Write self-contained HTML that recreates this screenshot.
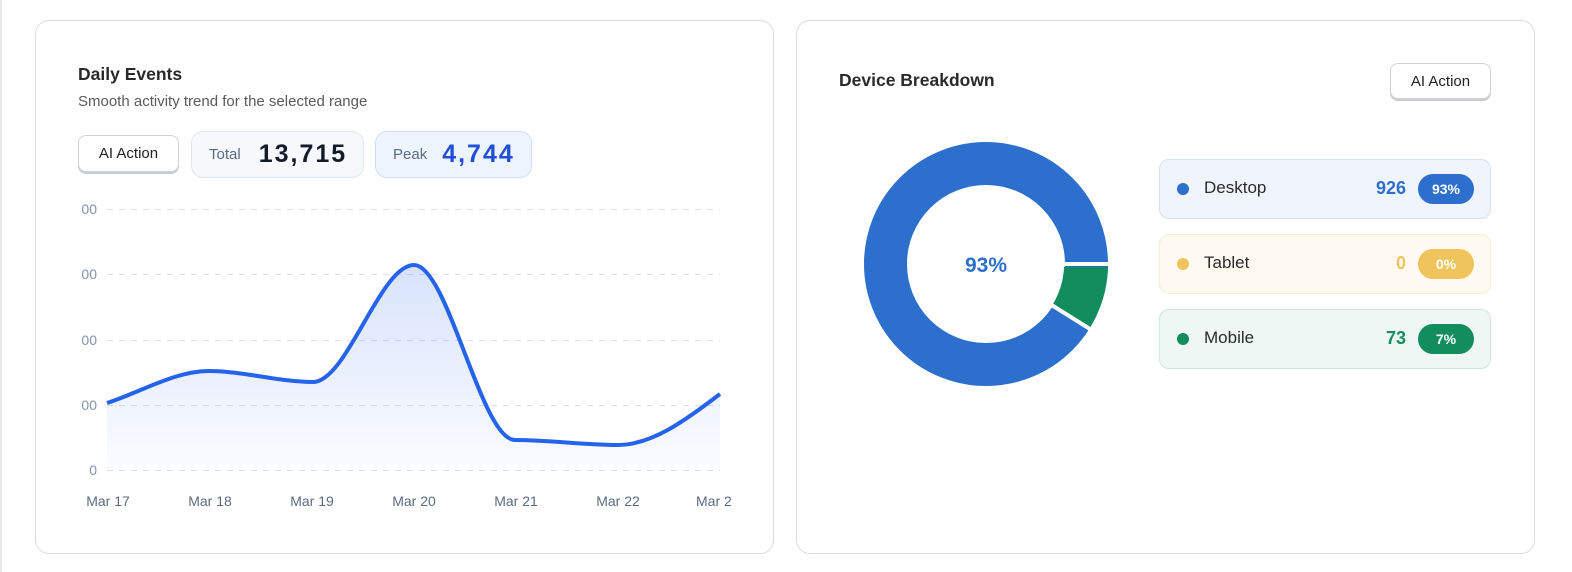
<!DOCTYPE html>
<html><head><meta charset="utf-8"><style>
*{box-sizing:border-box;margin:0;padding:0}
body{width:1572px;height:572px;background:#fff;font-family:"Liberation Sans",sans-serif;position:relative;overflow:hidden}
.card{position:absolute;top:20px;height:534px;border:1px solid #d9dce1;border-radius:14px;background:#fff}
.btn{position:absolute;border:1px solid #cfd3d8;border-radius:8px;background:#fff;box-shadow:0 2px 0 #c9cdd2;font-size:15px;color:#222;display:flex;align-items:center;justify-content:center}
.pill{position:absolute;border-radius:12px;display:flex;align-items:center;font-weight:bold}
.row{position:absolute;left:1159px;width:332px;height:60px;border-radius:10px;border:1px solid}
.dot{position:absolute;left:17px;top:23px;width:12px;height:12px;border-radius:50%}
.lab{position:absolute;left:44px;top:18px;font-size:17px;color:#2b2b2b}
.num{position:absolute;right:84px;top:18px;font-size:18px;font-weight:bold}
.bdg{position:absolute;right:16px;top:14px;width:56px;height:30px;border-radius:15px;color:#fff;font-weight:bold;font-size:14px;display:flex;align-items:center;justify-content:center}
</style></head><body>
<div style="position:absolute;left:0;top:0;width:2px;height:572px;background:#e8e8e8"></div>
<div class="card" style="left:35px;width:739px"></div>
<div class="card" style="left:796px;width:739px"></div>

<div style="position:absolute;left:78px;top:64px;font-size:17.5px;font-weight:bold;color:#2a2a2a">Daily Events</div>
<div style="position:absolute;left:78px;top:93px;font-size:15px;color:#5a5a5a">Smooth activity trend for the selected range</div>
<div class="btn" style="left:78px;top:135px;width:101px;height:37px">AI Action</div>
<div class="pill" style="left:191px;top:131px;width:173px;height:47px;background:#f6f8fb;border:1px solid #e1e6ee"><span style="margin-left:17px;font-size:15px;color:#5b6b82;font-weight:normal">Total</span><span style="margin-left:18px;font-size:25px;color:#141b2b;letter-spacing:2px">13,715</span></div>
<div class="pill" style="left:375px;top:131px;width:157px;height:47px;background:#eef4fe;border:1px solid #cfdff8"><span style="margin-left:17px;font-size:15px;color:#5b6b82;font-weight:normal">Peak</span><span style="margin-left:15px;font-size:25px;color:#1f4fd6;letter-spacing:2px">4,744</span></div>

<svg style="position:absolute;left:0;top:0" width="780" height="572">
<defs><linearGradient id="g" x1="0" y1="0" x2="0" y2="1"><stop offset="0" stop-color="#2563eb" stop-opacity="0.18"/><stop offset="1" stop-color="#2563eb" stop-opacity="0.02"/></linearGradient></defs>
<g stroke="#dde1e7" stroke-dasharray="6 6" stroke-width="1">
<line x1="107" y1="209.5" x2="720" y2="209.5"/><line x1="107" y1="274.5" x2="720" y2="274.5"/><line x1="107" y1="340.5" x2="720" y2="340.5"/><line x1="107" y1="405.5" x2="720" y2="405.5"/><line x1="107" y1="470.5" x2="720" y2="470.5"/></g>
<g fill="#8593a8" font-size="14" text-anchor="end" font-family="Liberation Sans">
<text x="97" y="214">00</text><text x="97" y="279">00</text><text x="97" y="345">00</text><text x="97" y="410">00</text><text x="97" y="475">0</text></g>
<path d="M107,403 C141,392 175,371 209,371 C243,371 279,382 313,382 C347,382 380,265 414,265 C448,265 481,440 515,440 C549,440 584,445 618,445 C652,445 686,420 720,394 L720,470 L107,470Z" fill="url(#g)"/>
<path d="M107,403 C141,392 175,371 209,371 C243,371 279,382 313,382 C347,382 380,265 414,265 C448,265 481,440 515,440 C549,440 584,445 618,445 C652,445 686,420 720,394" fill="none" stroke="#2563eb" stroke-width="4"/>
<g fill="#5b6b82" font-size="14" text-anchor="middle" font-family="Liberation Sans">
<text x="108" y="506">Mar 17</text><text x="210" y="506">Mar 18</text><text x="312" y="506">Mar 19</text><text x="414" y="506">Mar 20</text><text x="516" y="506">Mar 21</text><text x="618" y="506">Mar 22</text></g>
<svg x="690" y="490" width="41" height="22"><text x="6" y="16" fill="#5b6b82" font-size="14" font-family="Liberation Sans">Mar 23</text></svg>
</svg>

<div style="position:absolute;left:839px;top:70px;font-size:17.5px;font-weight:bold;color:#2a2a2a">Device Breakdown</div>
<div class="btn" style="left:1390px;top:63px;width:101px;height:36px">AI Action</div>

<svg style="position:absolute;left:856px;top:134px" width="260" height="260">
<g transform="translate(130,130)">
<circle r="100.5" fill="none" stroke="#2d6fcc" stroke-width="43"/>
<path d="M122,3 A122,122 0 0 1 104,63 L66,41 A78,78 0 0 0 78,3 Z" fill="#138c5e"/>
<line x1="0" y1="0" x2="130" y2="0" stroke="#fff" stroke-width="4"/>
<line x1="0" y1="0" x2="130" y2="0" stroke="#fff" stroke-width="4" transform="rotate(32)"/>
<circle r="78" fill="#fff"/>
<text y="8" text-anchor="middle" fill="#2d6fcc" font-size="21" font-weight="bold" font-family="Liberation Sans">93%</text>
</g></svg>

<div class="row" style="top:159px;background:#f0f4fc;border-color:#d6e1f3"><div class="dot" style="background:#2d6fcc"></div><div class="lab">Desktop</div><div class="num" style="color:#2d6fcc">926</div><div class="bdg" style="background:#2d6fcc">93%</div></div>
<div class="row" style="top:234px;background:#fefaf2;border-color:#f8ecd2"><div class="dot" style="background:#efc45c"></div><div class="lab">Tablet</div><div class="num" style="color:#efc45c">0</div><div class="bdg" style="background:#efc45c">0%</div></div>
<div class="row" style="top:309px;background:#eef7f3;border-color:#cfe7dc"><div class="dot" style="background:#138c5e"></div><div class="lab">Mobile</div><div class="num" style="color:#138c5e">73</div><div class="bdg" style="background:#138c5e">7%</div></div>
</body></html>
